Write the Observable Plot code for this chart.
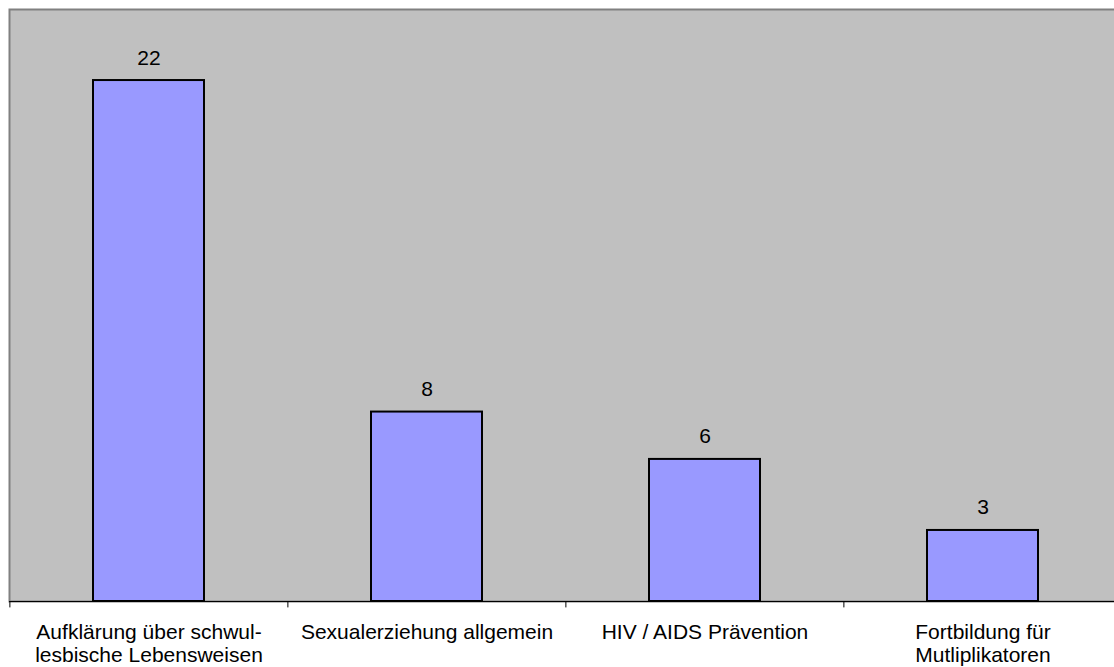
<!DOCTYPE html>
<html>
<head>
<meta charset="utf-8">
<script src="https://cdn.jsdelivr.net/npm/d3@7"></script>
<script src="https://cdn.jsdelivr.net/npm/@observablehq/plot@0.6"></script>
<style>
  html, body { margin: 0; padding: 0; background: #fff; overflow: hidden; }
  #chart svg { display: block; max-width: none; }
</style>
</head>
<body>
<div id="chart"></div>
<script>
const categories = [
  "Aufklärung über schwul-\nlesbische Lebensweisen",
  "Sexualerziehung allgemein",
  "HIV / AIDS Prävention",
  "Fortbildung für\nMutliplikatoren"
];
const values = [22, 8, 6, 3];
const valueLabels = ["22", "8", "6", "3"];

const data = categories.map((c, i) => ({category: c, value: values[i], label: valueLabels[i]}));

const W = 1122, H = 667;
const mLeft = 9, mRight = 0, mTop = 9, mBottom = 66;
const padInner = 0.6, padOuter = 0.3;
const step = (W - mLeft - mRight) / (categories.length - padInner + 2 * padOuter);

const chart = Plot.plot({
  width: W,
  height: H,
  marginLeft: mLeft,
  marginRight: mRight,
  marginTop: mTop,
  marginBottom: mBottom,
  style: {fontFamily: "Arial, 'Liberation Sans', sans-serif", fontSize: "21px", color: "black", background: "white"},
  x: {domain: categories, paddingInner: padInner, paddingOuter: padOuter, axis: null, label: null},
  y: {domain: [0, 25], axis: null},
  marks: [
    Plot.frame({fill: "#C0C0C0", stroke: "#808080", strokeWidth: 2}),
    Plot.barY(data, {x: "category", y: "value", fill: "#9999FF", stroke: "black", strokeWidth: 2}),
    Plot.ruleY([0], {stroke: "black", strokeWidth: 1.2}),
    Plot.ruleX(categories, {x: d => d, dx: -step / 2, y1: 0, y2: -0.27, stroke: "black", strokeWidth: 1}),
    Plot.text(data, {x: "category", y: "value", text: "label", lineAnchor: "bottom", dy: -16, fontSize: 21, fill: "black"}),
    Plot.axisX({domain: categories, label: null, tickSize: 0, tickPadding: 21, fontSize: 21, lineHeight: 1.1, textOverflow: null, lineWidth: Infinity, fill: "black"})
  ]
});
document.getElementById("chart").appendChild(chart);
</script>
</body>
</html>
